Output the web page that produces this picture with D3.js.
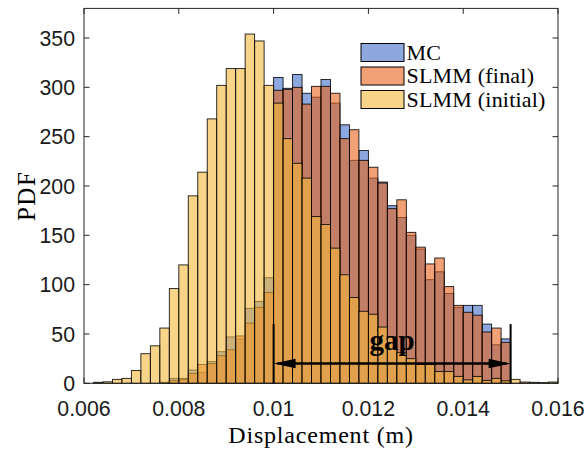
<!DOCTYPE html>
<html><head><meta charset="utf-8">
<script src="https://cdn.jsdelivr.net/npm/d3@7"></script>
<style>body{margin:0;background:#fff} svg{display:block}</style>
</head><body>
<svg id="c" width="588" height="451"></svg>
<script>
// ---- data ----
const binStart = 0.006, binWidth = 0.0002, binCount = 50;
const mcPdf = [0,0,0,0,0,0,0,0,1,5,5,13.5,11,22,32,47,45,76,83,107,
  310,299,313,294,290,308,284,262,226,236,208,204,180,168,150,136,105,113,91,77,79,79,60,39,45,
  0,0,0,0,0];
const slmmFinalPdf = [0,0,0,0,0,0,0,0,0,3,4,10,19,20,28,34,48,61,77,92,
  297,298,300,283,301,301,294,248,257,226,219,203,177,186,153,138,121,127,98,79,72,69,52,56,41.5,
  0,0,0,0,0];
const slmmInitialPdf = [0,1,1.5,4,5,13,30,38,56,96,120,190,214,268,302,319,319,354,347,302,
  284,248,223,208,169,161,137,110,87,73,70,57,47,31,25,19,19,12,12,7,3.5,7,3,5,2.5,4,1.3,1,0.7,1.3];
const seriesNames = ["MC","SLMM (final)","SLMM (initial)"];
const xTicks = [0.006,0.008,0.01,0.012,0.014,0.016];
const xTickLabels = ["0.006","0.008","0.01","0.012","0.014","0.016"];
const yTicks = [0,50,100,150,200,250,300,350];
const gapRange = [0.01, 0.015];

// ---- layout ----
const svg = d3.select("#c");
const L = 84, R = 558, T = 8.4, B = 383.3;
const x = d3.scaleLinear().domain([0.006,0.016]).range([L,R]);
const y = d3.scaleLinear().domain([0,380]).range([B,T]);
const colors = ["rgb(63,110,200)","rgb(232,98,25)","rgb(243,183,58)"];
const alpha = 0.6;

const series = [mcPdf, slmmFinalPdf, slmmInitialPdf];
series.forEach((vals, s) => {
  const bins = vals.map((v,i) => ({x0: binStart + i*binWidth, x1: binStart + (i+1)*binWidth, v}))
                   .filter(d => d.v > 0);
  svg.append("g").selectAll("rect").data(bins).join("rect")
    .attr("x", d => x(d.x0)).attr("width", d => x(d.x1) - x(d.x0))
    .attr("y", d => y(d.v)).attr("height", d => y(0) - y(d.v))
    .attr("fill", colors[s]).attr("fill-opacity", alpha)
    .attr("stroke", "#000").attr("stroke-width", 0.9).attr("stroke-opacity", 0.9);
});

// ---- axes (box, inward ticks) ----
const tickFont = "'Liberation Sans', Arial, sans-serif";
const ax = svg.append("g");
ax.append("rect").attr("x",L).attr("y",T).attr("width",R-L).attr("height",B-T)
  .attr("fill","none").attr("stroke","#262626").attr("stroke-width",1);
const tl = 5.5;
xTicks.forEach((t,i) => {
  ax.append("line").attr("x1",x(t)).attr("x2",x(t)).attr("y1",B).attr("y2",B-tl).attr("stroke","#262626");
  ax.append("line").attr("x1",x(t)).attr("x2",x(t)).attr("y1",T).attr("y2",T+tl).attr("stroke","#262626");
  ax.append("text").attr("x",x(t)).attr("y",B+33).attr("text-anchor","middle")
    .attr("font-family",tickFont).attr("font-size",21.3).attr("fill","#1a1a1a").text(xTickLabels[i]);
});
yTicks.forEach(t => {
  ax.append("line").attr("x1",L).attr("x2",L+tl).attr("y1",y(t)).attr("y2",y(t)).attr("stroke","#262626");
  ax.append("line").attr("x1",R).attr("x2",R-tl).attr("y1",y(t)).attr("y2",y(t)).attr("stroke","#262626");
  ax.append("text").attr("x",L-9).attr("y",y(t)).attr("dy","0.36em").attr("text-anchor","end")
    .attr("font-family",tickFont).attr("font-size",21.3).attr("fill","#1a1a1a").text(t);
});

const serif = "'Liberation Serif', 'DejaVu Serif', serif";
svg.append("text").attr("x",(L+R)/2).attr("y",443).attr("text-anchor","middle")
  .attr("font-family",serif).attr("font-size",24).attr("letter-spacing",0.8).attr("fill","#000").text("Displacement (m)");
svg.append("text").attr("transform",`translate(35,${(T+B)/2}) rotate(-90)`).attr("text-anchor","middle")
  .attr("font-family",serif).attr("font-size",25).attr("letter-spacing",1.5).attr("fill","#000").text("PDF");

// ---- gap annotation ----
const ann = svg.append("g");
const vTop = 60, arrowY = 20;
gapRange.forEach(g => {
  ann.append("line").attr("x1",x(g)).attr("x2",x(g)).attr("y1",y(0)).attr("y2",y(vTop))
    .attr("stroke","#000").attr("stroke-width",2);
});
ann.append("line").attr("x1",x(gapRange[0])+4).attr("x2",x(gapRange[1])-4)
  .attr("y1",y(arrowY)).attr("y2",y(arrowY)).attr("stroke","#000").attr("stroke-width",2.6);
const ah = 22, aw = 4.8;
const ya = y(arrowY);
ann.append("path").attr("d",`M${x(gapRange[0])},${ya} L${x(gapRange[0])+ah},${ya-aw} L${x(gapRange[0])+ah},${ya+aw} Z`).attr("fill","#000");
ann.append("path").attr("d",`M${x(gapRange[1])},${ya} L${x(gapRange[1])-ah},${ya-aw} L${x(gapRange[1])-ah},${ya+aw} Z`).attr("fill","#000");
ann.append("text").attr("x",x(0.0125)).attr("y",y(33.5)).attr("text-anchor","middle")
  .attr("font-family",serif).attr("font-weight","bold").attr("font-size",29).attr("fill","#000").text("gap");

// ---- legend ----
const lg = svg.append("g");
seriesNames.forEach((n,i) => {
  const ly = 43.5 + i*23.5;
  lg.append("rect").attr("x",361).attr("y",ly).attr("width",43).attr("height",18)
    .attr("fill",colors[i]).attr("fill-opacity",alpha).attr("stroke","#000").attr("stroke-width",1);
  lg.append("text").attr("x",406.5).attr("y",ly+16).attr("font-family",serif).attr("font-size",22)
    .attr("letter-spacing",0.2).attr("fill","#000").text(n);
});
</script>
</body></html>
